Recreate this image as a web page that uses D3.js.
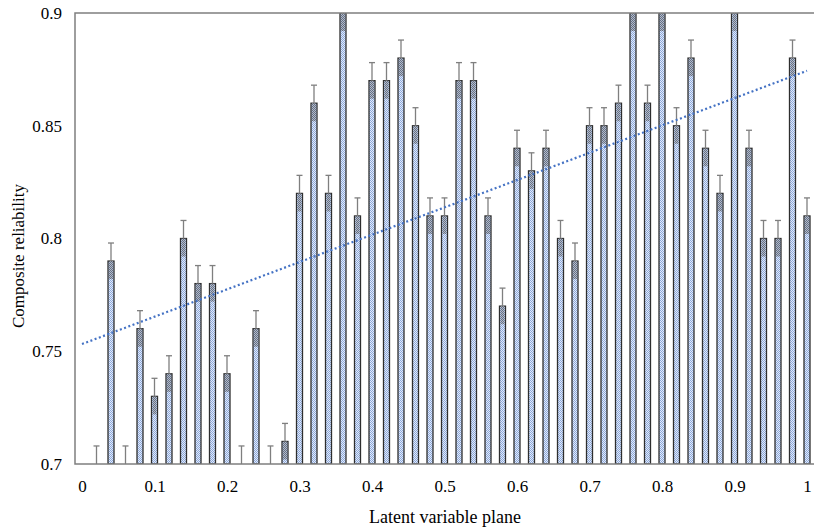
<!DOCTYPE html>
<html>
<head>
<meta charset="utf-8">
<script src="https://cdn.jsdelivr.net/npm/d3@7"></script>
<style>
  body { margin: 0; background: #fff; }
  text { font-family: "Liberation Serif", "Times New Roman", serif; }
</style>
</head>
<body>
<div id="chart"></div>
<script>
// data
const planes = d3.range(1, 51).map(i => +(i * 0.02).toFixed(2));
const reliability = [
  0.70, 0.79, 0.70, 0.76, 0.73, 0.74, 0.80, 0.78, 0.78, 0.74,
  0.70, 0.76, 0.70, 0.71, 0.82, 0.86, 0.82, 0.90, 0.81, 0.87,
  0.87, 0.88, 0.85, 0.81, 0.81, 0.87, 0.87, 0.81, 0.77, 0.84,
  0.83, 0.84, 0.80, 0.79, 0.85, 0.85, 0.86, 0.90, 0.86, 0.90,
  0.85, 0.88, 0.84, 0.82, 0.90, 0.84, 0.80, 0.80, 0.88, 0.81
];
const errorSize = 0.008;
const yTicks = [0.7, 0.75, 0.8, 0.85, 0.9];
const xTicks = [0, 0.1, 0.2, 0.3, 0.4, 0.5, 0.6, 0.7, 0.8, 0.9, 1];

const width = 814, height = 530;
const margin = {left: 75, right: 0, top: 13, bottom: 66};

const svg = d3.select("#chart").append("svg")
  .attr("width", width)
  .attr("height", height);

// patterns for bars
const defs = svg.append("defs");
const pat = defs.append("pattern").attr("id", "dots")
  .attr("width", 2).attr("height", 2).attr("patternUnits", "userSpaceOnUse");
pat.append("rect").attr("width", 2).attr("height", 2).attr("fill", "#e4ebf8");
pat.append("rect").attr("width", 1).attr("height", 1).attr("fill", "#8ba8dc");
pat.append("rect").attr("x", 1).attr("y", 1).attr("width", 1).attr("height", 1).attr("fill", "#8ba8dc");

const pat2 = defs.append("pattern").attr("id", "darkdots")
  .attr("width", 2).attr("height", 2).attr("patternUnits", "userSpaceOnUse");
pat2.append("rect").attr("width", 2).attr("height", 2).attr("fill", "#a9b2c4");
pat2.append("rect").attr("width", 1).attr("height", 1).attr("fill", "#5f6673");
pat2.append("rect").attr("x", 1).attr("y", 1).attr("width", 1).attr("height", 1).attr("fill", "#5f6673");

// scales
const xScale = d3.scaleLinear().domain([0, 1]).range([82, 807]);
const yScale = d3.scaleLinear().domain([0.7, 0.9]).range([height - margin.bottom, margin.top]);

svg.append("clipPath").attr("id", "plot")
  .append("rect")
  .attr("x", margin.left).attr("y", margin.top)
  .attr("width", width - margin.left).attr("height", height - margin.top - margin.bottom);

const plot = svg.append("g").attr("clip-path", "url(#plot)");

const barW = 6;
const data = planes.map((p, i) => ({x: p, v: reliability[i]}));

// bars
plot.selectAll(".bar")
  .data(data.filter(d => d.v > 0.7))
  .enter()
  .append("rect")
    .attr("class", "bar")
    .attr("x", d => xScale(d.x) - barW / 2)
    .attr("y", d => yScale(d.v))
    .attr("width", barW)
    .attr("height", d => yScale(0.7) - yScale(d.v))
    .attr("fill", "url(#dots)")
    .attr("stroke", "#2e2e2e")
    .attr("stroke-width", 1.3);

// darker cap: lower half of the error bar inside the bar
plot.selectAll(".cap")
  .data(data.filter(d => d.v > 0.7))
  .enter()
  .append("rect")
    .attr("class", "cap")
    .attr("x", d => xScale(d.x) - barW / 2 + 1)
    .attr("y", d => yScale(d.v))
    .attr("width", barW - 2)
    .attr("height", d => yScale(Math.max(0.7, d.v - errorSize)) - yScale(d.v))
    .attr("fill", "url(#darkdots)")
    .attr("opacity", 0.85);

// error whiskers
const whisk = plot.selectAll(".err")
  .data(data)
  .enter()
  .append("g")
    .attr("class", "err")
    .attr("stroke", "#7f7f7f")
    .attr("stroke-width", 1.3);
whisk.append("line")
  .attr("x1", d => xScale(d.x)).attr("x2", d => xScale(d.x))
  .attr("y1", d => yScale(d.v))
  .attr("y2", d => yScale(d.v + errorSize));
whisk.append("line")
  .attr("x1", d => xScale(d.x) - 3).attr("x2", d => xScale(d.x) + 3)
  .attr("y1", d => yScale(d.v + errorSize))
  .attr("y2", d => yScale(d.v + errorSize));

// linear trend line (least squares)
const mx = d3.mean(planes), my = d3.mean(reliability);
const slope = d3.sum(planes, (p, i) => (p - mx) * (reliability[i] - my)) /
              d3.sum(planes, p => (p - mx) * (p - mx));
const icpt = my - slope * mx;
plot.append("line")
  .attr("x1", xScale(0)).attr("y1", yScale(icpt))
  .attr("x2", xScale(1)).attr("y2", yScale(icpt + slope))
  .attr("stroke", "#4472c4")
  .attr("stroke-width", 2.2)
  .attr("stroke-dasharray", "2,2.5");

// frame: left, top and bottom lines
svg.append("path")
  .attr("d", `M${width},${margin.top}H${margin.left}V${height - margin.bottom}H${width}`)
  .attr("fill", "none")
  .attr("stroke", "#7f7f7f")
  .attr("stroke-width", 1.5);

// axes (labels only)
const yAxis = svg.append("g")
  .attr("transform", `translate(${margin.left}, 0)`)
  .call(d3.axisLeft(yScale).tickValues(yTicks).tickSize(0).tickPadding(13).tickFormat(d => String(+d.toFixed(2))));
yAxis.select(".domain").remove();
yAxis.selectAll("text").attr("font-size", "17px").attr("fill", "#000")
  .style("font-family", "'Liberation Serif', serif");

const xAxis = svg.append("g")
  .attr("transform", `translate(0, ${height - margin.bottom})`)
  .call(d3.axisBottom(xScale).tickValues(xTicks).tickSize(0).tickPadding(16).tickFormat(d => String(+d.toFixed(1))));
xAxis.select(".domain").remove();
xAxis.selectAll("text").attr("font-size", "17px").attr("fill", "#000")
  .style("font-family", "'Liberation Serif', serif");

// titles
svg.append("text")
  .attr("x", 445).attr("y", 523)
  .attr("text-anchor", "middle")
  .attr("font-size", "18px")
  .text("Latent variable plane");

svg.append("text")
  .attr("transform", "translate(24, 256) rotate(-90)")
  .attr("text-anchor", "middle")
  .attr("font-size", "17px")
  .text("Composite reliability");
</script>
</body>
</html>
